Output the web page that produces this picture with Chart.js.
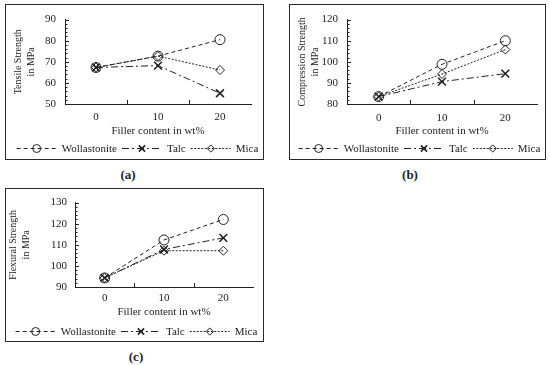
<!DOCTYPE html>
<html>
<head>
<meta charset="utf-8">
<script src="https://cdn.jsdelivr.net/npm/chart.js@4.4.1/dist/chart.umd.min.js"></script>
<style>
  body { margin: 0; background: #fff; width: 550px; height: 365px; position: relative; overflow: hidden; }
  .box { position: absolute; border: 1px solid #2a2a2a; box-sizing: border-box; }
  canvas { position: absolute; }
  .cap { position: absolute; font: bold 13px "Liberation Serif", serif; color: #222; transform: translate(-50%, -50%); }
</style>
</head>
<body>
<div class="box" style="left:5px;top:4px;width:259px;height:156px"></div>
<div class="box" style="left:289px;top:4px;width:257px;height:156px"></div>
<div class="box" style="left:5px;top:188px;width:259px;height:154px"></div>
<canvas id="chartA" width="259" height="156" style="left:5px;top:4px"></canvas>
<canvas id="chartB" width="257" height="156" style="left:289px;top:4px"></canvas>
<canvas id="chartC" width="259" height="154" style="left:5px;top:188px"></canvas>
<div class="cap" style="left:128px;top:175px">(a)</div>
<div class="cap" style="left:410px;top:175px">(b)</div>
<div class="cap" style="left:136px;top:357px">(c)</div>

<script>
// data
const seriesNames = ['Wollastonite', 'Talc', 'Mica'];
const fillerContent = ['0', '10', '20'];

const tensileWollastonite = [67.3, 72.7, 80.5];
const tensileTalc = [67.3, 68.2, 55.1];
const tensileMica = [67.3, 72.7, 66.1];

const compressionWollastonite = [83.5, 98.8, 110];
const compressionTalc = [83.5, 90.6, 94.4];
const compressionMica = [83.5, 94.2, 105.8];

const flexuralWollastonite = [94.3, 112.3, 122];
const flexuralTalc = [94.3, 107.8, 113.3];
const flexuralMica = [94.3, 107.2, 107.2];

const tensileRange = [50, 90];
const compressionRange = [80, 120];
const flexuralRange = [90, 130];

const ink = '#222';
const serif = '"Liberation Serif", "Times New Roman", serif';

// line / marker look of each series
const seriesStyle = [
  { dash: [4, 3], point: 'circle', radius: 5, width: 1 },
  { dash: [7, 3, 2, 3], point: 'crossRot', radius: 5.5, width: 1.6 },
  { dash: [2, 1.5], point: 'rectRot', radius: 4.5, width: 1 }
];

// small inward tick marks like the spreadsheet original
const axisTicks = {
  id: 'axisTicks',
  afterDraw(chart) {
    const { ctx, chartArea: a, scales: { x, y } } = chart;
    ctx.save();
    ctx.strokeStyle = ink;
    ctx.lineWidth = 1;
    ctx.beginPath();
    for (let v = y.min; v <= y.max + 1e-9; v += 2) {
      const py = Math.round(y.getPixelForValue(v)) + 0.5;
      const len = (v - y.min) % 10 === 0 ? 4 : 2.5;
      ctx.moveTo(a.left, py);
      ctx.lineTo(a.left + len, py);
    }
    for (let i = 1; i < x.ticks.length; i++) {
      const px = Math.round((x.getPixelForTick(i - 1) + x.getPixelForTick(i)) / 2) + 0.5;
      ctx.moveTo(px, a.bottom);
      ctx.lineTo(px, a.bottom - 4);
    }
    ctx.stroke();
    ctx.restore();
  }
};

// legend with dashed line + marker, drawn under the x title
const lineLegend = {
  id: 'lineLegend',
  afterDraw(chart, args, opts) {
    const ctx = chart.ctx;
    ctx.save();
    ctx.font = '11px ' + serif;
    const seg = 40, gap = 5, between = 5;
    const items = chart.data.datasets.map(ds => ({ ds, w: ctx.measureText(ds.label).width }));
    const total = items.reduce((s, it) => s + seg + gap + it.w, 0) + between * (items.length - 1);
    let x = (chart.width - total) / 2 + (opts.shift || 0);
    const y = opts.y;
    items.forEach(it => {
      const ds = it.ds;
      ctx.strokeStyle = ink;
      ctx.lineWidth = 1;
      ctx.setLineDash(ds.borderDash);
      ctx.beginPath();
      ctx.moveTo(x, y + 0.5);
      ctx.lineTo(x + seg, y + 0.5);
      ctx.stroke();
      ctx.setLineDash([]);
      ctx.fillStyle = 'rgba(0,0,0,0)';
      ctx.lineWidth = ds.pointBorderWidth;
      Chart.helpers.drawPoint(ctx, {
        pointStyle: ds.pointStyle, radius: ds.pointRadius * 0.8,
        borderWidth: ds.pointBorderWidth, rotation: 0
      }, x + seg / 2, y + 0.5);
      ctx.fillStyle = ink;
      ctx.textBaseline = 'middle';
      ctx.textAlign = 'left';
      ctx.fillText(ds.label, x + seg + gap, y + 1);
      x += seg + gap + it.w + between;
    });
    ctx.restore();
  }
};

function buildChart(p) {
  const canvas = document.getElementById(p.id);
  const W = canvas.width, H = canvas.height;
  const a = p.area;
  const xHeight = p.titleY + 6.6 - a.bottom;
  return new Chart(canvas, {
    type: 'line',
    data: {
      labels: fillerContent,
      datasets: p.values.map((v, i) => ({
        label: seriesNames[i],
        data: v,
        borderColor: ink,
        borderWidth: 1,
        borderDash: seriesStyle[i].dash,
        pointStyle: seriesStyle[i].point,
        pointRadius: seriesStyle[i].radius,
        pointBorderWidth: seriesStyle[i].width,
        pointBorderColor: ink,
        pointBackgroundColor: 'rgba(0,0,0,0)',
        fill: false,
        tension: 0
      }))
    },
    options: {
      responsive: false,
      animation: false,
      devicePixelRatio: 1,
      layout: { padding: { left: 0, top: a.top, right: W - a.right, bottom: H - a.bottom - xHeight } },
      plugins: {
        legend: { display: false },
        tooltip: { enabled: false },
        lineLegend: { y: p.legendY, shift: p.legendShift || 0 }
      },
      scales: {
        x: {
          offset: true,
          grid: { display: false, drawTicks: false },
          border: { color: ink, width: 1 },
          ticks: { color: ink, font: { family: serif, size: 11 }, padding: p.labelY - 6.6 - a.bottom },
          title: { display: true, text: 'Filler content in wt%', color: ink,
                   font: { family: serif, size: 11 }, padding: { top: 0, bottom: 0 } },
          afterFit: s => { s.height = xHeight; }
        },
        y: {
          min: p.range[0],
          max: p.range[1],
          ticks: { stepSize: 10, color: ink, font: { family: serif, size: 11 }, padding: p.tickPad },
          grid: { display: false, drawTicks: false },
          border: { color: ink, width: 1 },
          title: { display: true, text: p.title, color: ink,
                   font: { family: serif, size: 10, lineHeight: 1.3 }, padding: { top: p.yTitleX - 6.5, bottom: 0 } },
          afterFit: s => { s.width = a.left; }
        }
      }
    },
    plugins: [axisTicks, lineLegend]
  });
}

buildChart({
  id: 'chartA', title: ['Tensile Strength', 'in MPa'], range: tensileRange,
  values: [tensileWollastonite, tensileTalc, tensileMica],
  area: { left: 60, top: 11, right: 246, bottom: 100 },
  labelY: 113, titleY: 127, yTitleX: 13, tickPad: 9, legendY: 144, legendShift: 3
});
buildChart({
  id: 'chartB', title: ['Compression Strength', 'in MPa'], range: compressionRange,
  values: [compressionWollastonite, compressionTalc, compressionMica],
  area: { left: 58, top: 12, right: 248, bottom: 100 },
  labelY: 114, titleY: 127, yTitleX: 13, tickPad: 9, legendY: 144, legendShift: 2
});
buildChart({
  id: 'chartC', title: ['Flexural Strength', 'in MPa'], range: flexuralRange,
  values: [flexuralWollastonite, flexuralTalc, flexuralMica],
  area: { left: 70, top: 8, right: 248, bottom: 99 },
  labelY: 110, titleY: 124, yTitleX: 8, tickPad: 8, legendY: 143, legendShift: 2
});
</script>
</body>
</html>
